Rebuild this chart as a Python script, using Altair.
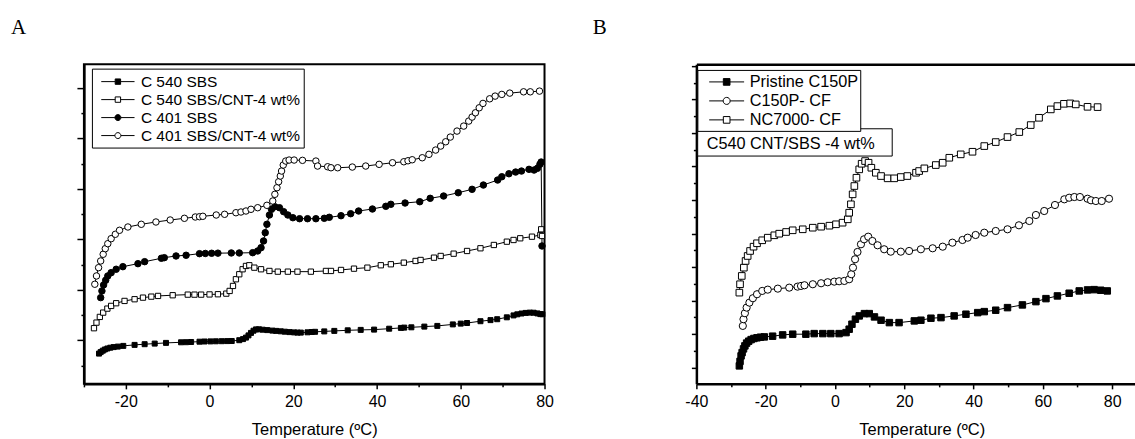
import altair as alt
import pandas as pd

FONT = "Liberation Sans"

# ---------------- Panel A data (T in degC, heat flow in arbitrary units) ----------------
A_NAMES = ["C 540 SBS", "C 540 SBS/CNT-4 wt%", "C 401 SBS", "C 401 SBS/CNT-4 wt%"]

A1_T = [-26.4, -26.0, -25.5, -25.0, -24.4, -23.7, -22.9, -21.9, -20.6, -17.9,
        -15.5, -13.1, -10.4, -6.8, -5.6, -4.4, -2.4, -1.2, 0.2, 1.5,
        2.9, 4.2, 5.3, 7.1, 8.0, 8.7, 9.3, 9.9, 10.5, 11.1,
        11.8, 12.7, 13.8, 15.0, 15.9, 17.0, 18.0, 19.1, 20.2, 21.0,
        21.8, 23.4, 24.4, 25.2, 27.4, 29.8, 33.0, 36.1, 39.3, 42.9,
        45.7, 46.5, 48.2, 51.3, 54.4, 58.1, 60.0, 61.5, 64.7, 67.1,
        68.7, 71.0, 72.6, 73.5, 74.5, 75.5, 76.5, 77.4, 78.3, 79.0, 79.5]
A1_H = [30.3, 31.8, 33.2, 34.4, 35.4, 36.2, 36.8, 37.3, 38.0, 39.0,
        39.7, 40.3, 41.0, 41.6, 41.7, 41.9, 42.2, 42.4, 42.5, 42.6,
        42.7, 42.8, 42.9, 43.7, 44.8, 46.3, 48.5, 51.0, 53.2, 54.5,
        54.6, 54.2, 53.8, 53.3, 53.0, 52.6, 52.2, 51.8, 51.5, 51.3,
        51.3, 51.6, 51.9, 52.1, 52.5, 53.0, 53.6, 54.0, 54.3, 55.2,
        56.0, 56.3, 56.6, 57.3, 58.0, 59.5, 60.3, 60.9, 62.7, 63.8,
        64.7, 66.6, 68.5, 69.6, 70.4, 71.0, 71.3, 71.2, 70.5, 69.8, 69.7]

A2_T = [-27.6, -27.0, -26.2, -25.4, -24.4, -23.5, -22.3, -20.3, -17.9, -15.9,
        -13.9, -12.3, -8.8, -5.2, -3.6, -2.0, 0.0, 2.0, 4.0, 4.8,
        5.6, 6.3, 7.1, 7.9, 8.7, 9.5, 10.7, 12.3, 14.3, 16.3,
        18.7, 21.0, 24.2, 27.8, 29.0, 31.4, 34.5, 37.7, 40.9, 43.3,
        46.4, 49.2, 50.4, 53.6, 55.2, 58.3, 61.5, 64.7, 67.9, 71.0,
        72.6, 74.2, 77.0, 79.0, 79.2, 79.4]
A2_H = [55.7, 61.3, 67.0, 71.3, 75.3, 78.0, 80.7, 83.0, 84.7, 86.3,
        87.3, 88.0, 88.7, 89.3, 89.3, 89.3, 89.5, 89.7, 90.3, 93.0,
        98.0, 104.7, 109.7, 114.7, 118.0, 118.7, 116.3, 114.7, 113.0, 112.3,
        112.3, 112.3, 112.3, 113.0, 113.0, 114.0, 115.3, 116.3, 118.7, 119.7,
        121.3, 123.0, 124.0, 126.3, 128.0, 130.3, 133.0, 135.7, 139.0, 142.3,
        144.0, 145.7, 147.3, 149.0, 154.7, 148.0]

A3_T = [-26.0, -25.7, -25.3, -24.8, -24.3, -23.5, -22.3, -20.7, -17.1, -15.5,
        -11.5, -10.8, -8.0, -5.6, -2.4, -1.0, 0.5, 2.0, 5.2, 7.1,
        10.3, 11.5, 12.3, 12.9, 13.3, 13.7, 14.3, 14.8, 15.6, 16.7,
        17.7, 18.7, 19.9, 21.5, 23.4, 25.4, 27.4, 28.6, 31.4, 33.7,
        35.6, 38.9, 42.1, 43.3, 46.7, 50.2, 52.7, 55.9, 59.4, 62.7,
        65.4, 68.8, 69.8, 71.5, 73.1, 74.5, 76.3, 77.5, 78.3, 78.9,
        79.2, 79.4]
A3_H = [86.3, 93.0, 99.0, 103.7, 108.0, 111.3, 114.7, 117.3, 120.3, 122.3,
        125.7, 126.3, 128.0, 128.7, 130.3, 130.5, 130.7, 130.8, 131.0, 131.0,
        131.3, 133.0, 136.3, 143.0, 151.3, 159.7, 169.0, 174.7, 177.3, 176.3,
        172.3, 169.0, 166.3, 165.3, 165.3, 165.3, 165.7, 166.7, 168.3, 170.3,
        173.0, 175.0, 177.7, 179.7, 181.0, 182.3, 185.7, 188.0, 191.3, 194.7,
        199.0, 204.0, 207.3, 210.3, 212.0, 213.0, 214.7, 214.0, 215.7, 219.7,
        222.0, 138.0]

A4_T = [-27.4, -27.0, -26.5, -26.0, -25.4, -24.9, -24.3, -23.5, -22.5, -21.5,
        -19.5, -16.3, -12.8, -9.4, -6.0, -3.4, -2.4, -1.6, 1.6, 3.6,
        6.3, 7.5, 8.7, 9.9, 11.5, 13.7, 15.1, 15.6, 16.1, 16.5,
        16.9, 17.2, 17.6, 18.2, 19.0, 20.2, 22.2, 25.4, 25.8, 28.2,
        29.0, 30.6, 34.1, 37.3, 40.5, 43.7, 46.4, 47.4, 48.4, 50.8,
        52.4, 54.0, 55.2, 56.4, 57.5, 59.1, 60.7, 61.9, 62.7, 63.5,
        64.4, 65.3, 66.9, 68.2, 69.8, 71.7, 75.0, 76.6, 78.8]
A4_H = [99.7, 108.0, 116.3, 123.0, 129.7, 135.3, 140.3, 145.3, 149.7, 153.7,
        157.0, 159.7, 162.0, 164.0, 165.7, 167.0, 167.3, 167.7, 169.0, 169.7,
        171.3, 172.0, 173.0, 174.7, 176.3, 178.7, 183.0, 189.7, 196.3, 202.3,
        208.0, 213.0, 219.0, 223.0, 224.0, 224.0, 223.7, 223.0, 218.0, 217.3,
        216.3, 216.3, 217.0, 218.0, 219.7, 221.3, 222.3, 223.3, 224.3, 226.3,
        229.7, 234.0, 238.0, 242.3, 247.0, 253.0, 258.0, 263.0, 267.0, 271.3,
        276.3, 280.7, 285.3, 288.0, 289.7, 291.0, 292.3, 292.3, 293.0]

# ---------------- Panel B data ----------------
B_NAMES = ["Pristine C150P", "C150P- CF", "NC7000- CF"]
B_NOTE = ["C540 CNT/SBS -4 wt%"]

B1_T = [-27.6, -27.4, -27.1, -26.8, -26.4, -26.0, -25.5, -24.9, -24.2, -23.4,
        -22.5, -21.5, -20.4, -18.0, -15.1, -12.2, -8.4, -6.0, -3.5, -1.2,
        1.2, 3.2, 4.1, 4.9, 5.9, 7.0, 8.5, 9.9, 11.4, 13.3,
        15.7, 18.5, 22.9, 24.8, 27.7, 30.6, 34.4, 37.8, 41.2, 43.1,
        46.4, 49.8, 54.1, 58.0, 60.9, 64.2, 67.6, 70.5, 72.9, 74.8,
        76.7, 78.6]
B1_H = [18.0, 22.5, 28.0, 31.3, 35.0, 38.0, 40.8, 42.7, 44.3, 45.4,
        46.1, 46.7, 47.0, 47.7, 49.0, 49.7, 49.7, 50.3, 50.3, 50.3,
        50.3, 51.3, 54.7, 59.7, 64.7, 68.0, 70.3, 70.3, 67.0, 63.7,
        61.3, 61.3, 63.0, 63.7, 65.7, 66.3, 68.0, 69.7, 71.3, 72.3,
        73.7, 76.3, 79.0, 82.3, 85.3, 88.0, 90.7, 93.0, 94.0, 94.3,
        93.7, 93.0]

B2_T = [-26.6, -26.4, -26.0, -25.5, -24.7, -23.7, -22.5, -21.0, -19.4, -16.5,
        -13.2, -10.8, -9.8, -8.8, -6.4, -4.0, -2.1, -0.2, 1.2, 2.7,
        4.1, 4.7, 5.2, 5.8, 6.5, 7.5, 8.4, 9.6, 10.8, 12.3,
        14.2, 16.1, 19.0, 21.4, 24.8, 28.2, 31.1, 33.9, 36.8, 38.3,
        40.6, 43.1, 46.4, 49.8, 53.1, 56.1, 58.0, 60.4, 63.5, 66.2,
        67.6, 69.1, 70.7, 72.9, 73.9, 75.3, 77.0, 79.1]
B2_H = [58.0, 64.7, 70.7, 76.3, 81.3, 85.7, 89.7, 93.0, 94.3, 95.3,
        96.3, 97.3, 98.0, 98.7, 99.7, 100.7, 101.7, 102.3, 102.7, 103.0,
        104.7, 109.7, 116.3, 124.7, 132.0, 139.7, 144.7, 147.3, 143.0, 138.7,
        134.7, 132.3, 132.3, 133.0, 134.7, 135.7, 137.3, 141.3, 144.0, 146.3,
        149.0, 151.3, 153.0, 154.7, 158.7, 163.0, 169.0, 173.0, 179.0, 184.7,
        186.3, 187.0, 187.0, 185.3, 183.7, 183.0, 183.0, 185.3]

B3_T = [-27.6, -27.4, -26.9, -26.3, -25.8, -25.2, -24.5, -23.5, -22.5, -21.0,
        -19.4, -17.5, -16.1, -14.1, -12.2, -9.3, -6.4, -4.0, -1.6, 0.3,
        2.2, 3.7, 4.1, 4.6, 5.1, 5.6, 6.2, 7.0, 7.7, 8.7,
        9.7, 10.5, 11.8, 13.3, 15.2, 17.1, 19.0, 20.9, 23.4, 24.3,
        25.8, 29.1, 31.1, 33.0, 36.3, 39.7, 43.1, 46.4, 49.8, 53.2,
        56.5, 58.9, 62.3, 64.2, 66.1, 67.9, 69.5, 72.9, 75.8]
B3_H = [91.3, 99.7, 108.0, 116.3, 123.0, 128.0, 133.0, 137.3, 140.7, 143.7,
        146.3, 148.7, 150.3, 152.0, 153.7, 154.7, 156.3, 157.3, 158.3, 159.7,
        161.3, 164.7, 171.3, 179.7, 189.7, 198.0, 206.3, 214.7, 220.3, 223.0,
        221.3, 216.3, 211.3, 208.0, 205.7, 205.7, 207.0, 208.0, 211.3, 213.0,
        215.7, 219.0, 221.3, 226.3, 229.7, 232.3, 238.0, 242.0, 247.0, 252.0,
        259.0, 266.3, 274.7, 278.0, 280.3, 280.7, 279.7, 277.3, 277.0]

# ---------------- tick values ----------------
X_TICKS_A = [-30, -20, -10, 0, 10, 20, 30, 40, 50, 60, 70, 80]
X_TICKS_B = [-40, -30, -20, -10, 0, 10, 20, 30, 40, 50, 60, 70, 80]
Y_TICKS_A = [18.5, 43.7, 69.0, 94.2, 119.5, 144.7, 170.0, 195.2, 220.5, 245.7, 271.0, 296.2]
Y_TICKS_B = [16.3, 33.1, 49.9, 66.6, 83.4, 100.2, 117.0, 133.7, 150.5, 167.3,
             184.1, 200.8, 217.6, 234.4, 251.2, 267.9, 284.7, 301.5, 318.3]

# legend symbols: line + marker (custom paths)
SQ_A = "M-1.85,0H-0.3M0.3,0H1.85M-0.3,-0.3H0.3V0.3H-0.3Z"
CI_A = "M-1.85,0H-0.33M0.33,0H1.85M-0.33,0A0.33,0.33 0 1,1 0.33,0A0.33,0.33 0 1,1 -0.33,0Z"
SQ_B = "M-1.84,0H-0.35M0.35,0H1.84M-0.35,-0.35H0.35V0.35H-0.35Z"
CI_B = "M-1.84,0H-0.37M0.37,0H1.84M-0.37,0A0.37,0.37 0 1,1 0.37,0A0.37,0.37 0 1,1 -0.37,0Z"


def make_df(names, Ts, Hs):
    frames = []
    for name, T, H in zip(names, Ts, Hs):
        frames.append(pd.DataFrame({"s": name, "T": T, "H": H, "i": list(range(len(T)))}))
    return pd.concat(frames, ignore_index=True)


def panel(df, names, shapes, fills, sizes, paths, x_domain, x_ticks, y_ticks, y_test,
          y_major, width, height, legend_kw, title_text, title_dx, frame, title_x=None,
          extra=()):
    xs = alt.Scale(domain=x_domain, nice=False, zero=False)
    ys = alt.Scale(domain=[0, height], nice=False, zero=False)
    xkw = dict(orient="bottom", values=x_ticks,
               labelExpr="datum.value % 20 == 0 ? '' + datum.value : ''",
               tickSize={"condition": {"test": "datum.value % 20 == 0", "value": 5}, "value": 3},
               tickWidth=1.5, tickColor="black", domainColor="black", domainWidth=2.5,
               labelFont=FONT, labelFontSize=16, labelColor="black", labelPadding=5,
               labelOverlap=False, labelFlush=False,
               title="Temperature (ºC)", titleFont=FONT, titleFontSize=16.5,
               titleFontWeight="normal", titleColor="black", titlePadding=12, grid=False)
    if title_x is not None:
        xkw["titleX"] = title_x
    x_axis = alt.Axis(**xkw)
    y_axis = alt.Axis(orient="left", values=y_ticks, labels=False,
                      tickSize={"condition": {"test": y_test, "value": y_major}, "value": 3},
                      tickWidth=1.5, tickColor="black", domainColor="black", domainWidth=2.5,
                      title=None, grid=False)
    leg = alt.Legend(**legend_kw)
    dom = alt.Scale(domain=names, range=["black"] * len(names))
    carrier = alt.Chart(df).mark_point(filled=True, opacity=0, size=20, strokeWidth=1).encode(
        x=alt.X("T:Q", scale=xs, axis=x_axis),
        y=alt.Y("H:Q", scale=ys, axis=y_axis),
        shape=alt.Shape("s:N", scale=alt.Scale(domain=names, range=paths), legend=leg),
        fill=alt.Fill("s:N", scale=alt.Scale(domain=names, range=fills), legend=leg),
        stroke=alt.Stroke("s:N", scale=dom, legend=leg),
    )
    layers = [carrier]
    if not frame:
        top = alt.Chart(df).mark_point(opacity=0, size=1).encode(
            x=alt.X("T:Q", scale=xs, axis=alt.Axis(orient="top", labels=False, ticks=False,
                                                   domainColor="black", domainWidth=2.5,
                                                   title=None, grid=False)),
            y=alt.Y("H:Q", scale=ys, axis=y_axis),
        )
        layers.append(top)
    lines, pts = [], []
    for name, shp, fc, sz in zip(names, shapes, fills, sizes):
        d = df[df["s"] == name]
        base = alt.Chart(d).encode(
            x=alt.X("T:Q", scale=xs, axis=None),
            y=alt.Y("H:Q", scale=ys, axis=y_axis),
            order=alt.Order("i:Q"),
        )
        lines.append(base.mark_line(color="black", strokeWidth=1))
        pts.append(base.mark_point(shape=shp, filled=True, fill=fc, stroke="black",
                                   strokeWidth=1, size=sz, opacity=1))
    layers += lines + pts + list(extra)
    view = (alt.ViewBackground(stroke="black", strokeWidth=2, fill="white") if frame
            else alt.ViewBackground(strokeWidth=0, fill="white"))
    return alt.layer(*layers).resolve_axis(x="independent").properties(
        width=width, height=height, view=view,
        title=alt.TitleParams(title_text, anchor="start", frame="group", dx=title_dx,
                              offset=9.5, font="Liberation Serif", fontSize=21,
                              fontWeight="normal", color="black", baseline="alphabetic"),
    )


dfA = make_df(A_NAMES, [A1_T, A2_T, A3_T, A4_T], [A1_H, A2_H, A3_H, A4_H])
dfB = make_df(B_NAMES, [B1_T, B2_T, B3_T], [B1_H, B2_H, B3_H])

legA = dict(orient="none", legendX=8, legendY=4.5, title=None, padding=3.5, rowPadding=0,
            symbolSize=324, symbolOffset=13, labelOffset=13.5, labelFont=FONT,
            labelFontSize=15.5, labelColor="black", strokeColor="black", fillColor="white",
            symbolStrokeWidth=1, symbolOpacity=1, labelLimit=400)
legB = dict(orient="none", legendX=1, legendY=5.8, title=None, padding=2, rowPadding=0,
            symbolSize=361, symbolOffset=17.3, labelOffset=13, labelFont=FONT,
            labelFontSize=16.3, labelColor="black", strokeColor="black", fillColor="white",
            symbolStrokeWidth=1, symbolOpacity=1, labelLimit=400)

note_df = pd.DataFrame({"label": B_NOTE})
note_box = alt.Chart(note_df).mark_rect(fill="white", stroke="black", strokeWidth=1).encode(
    x=alt.value(1.3), x2=alt.value(196), y=alt.value(64.7), y2=alt.value(92))
note_txt = alt.Chart(note_df).mark_text(align="left", baseline="middle", font=FONT,
                                         fontSize=16.3, color="black").encode(
    x=alt.value(10.3), y=alt.value(79.5), text="label:N")

chartA = panel(dfA, A_NAMES, ["square", "square", "circle", "circle"],
               ["black", "white", "black", "white"], [25, 28, 42, 42],
               [SQ_A, SQ_A, CI_A, CI_A], [-30, 80], X_TICKS_A, Y_TICKS_A,
               "round((datum.value - 18.5) / 25.25) % 2 == 1", 7, 461, 320, legA,
               "A", -73, True)
chartB = panel(dfB, B_NAMES, ["square", "circle", "square"],
               ["black", "white", "white"], [42, 52, 44],
               [SQ_B, CI_B, SQ_B], [-40, 86.6], X_TICKS_B, Y_TICKS_B,
               "round((datum.value - 16.3) / 16.775) % 2 == 0", 5, 439, 320, legB,
               "B", -103.7, False, title_x=225.5, extra=(note_box, note_txt))

chart = alt.hconcat(chartA, chartB, spacing=152, bounds="flush").resolve_scale(
    x="independent", y="independent", shape="independent", fill="independent",
    stroke="independent"
).resolve_legend(shape="independent", fill="independent", stroke="independent").properties(
    padding={"left": 10, "top": 15, "right": 0, "bottom": 0}, background="white"
).configure(font=FONT)

chart.save("out.html", embed_options={"renderer": "svg", "actions": False})
